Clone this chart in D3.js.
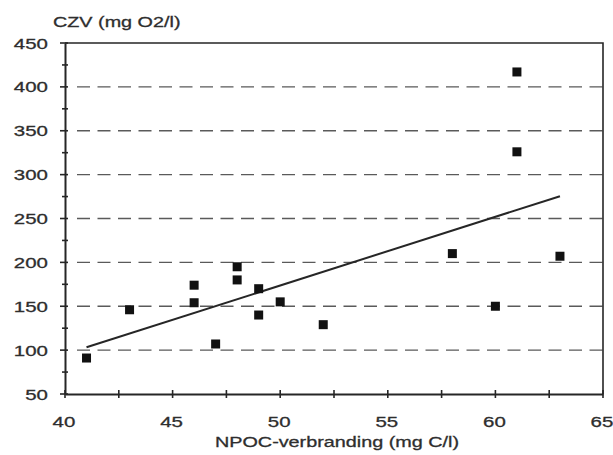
<!DOCTYPE html>
<html>
<head>
<meta charset="utf-8">
<script src="https://cdn.jsdelivr.net/npm/d3@7"></script>
<style>
  html, body { margin: 0; padding: 0; background: #fff; }
  svg { display: block; }
  text { font-family: "Liberation Sans", Arial, sans-serif; fill: #2e2e2e; stroke: #2e2e2e; stroke-width: 0.3; }
</style>
</head>
<body>
<svg id="chart" width="613" height="455"></svg>
<script>
// NPOC (mg C/l) against CZV (mg O2/l) for each sample
const npoc = [41, 43, 46, 46, 47, 48, 48, 49, 49, 50, 52, 58, 60, 63, 61, 61];
const czv  = [91, 146, 174, 154, 107, 195, 180, 170, 140, 155, 129, 210, 150, 207, 417, 326];

const xTicks = [40, 45, 50, 55, 60, 65];
const yTicks = [50, 100, 150, 200, 250, 300, 350, 400, 450];
const xMinor = [42.5, 47.5, 52.5, 57.5, 62.5];
const yMinor = [75, 125, 175, 225, 275, 325, 375, 425];
const gridValues = [100, 150, 200, 250, 300, 350, 400];

const yTitle = "CZV (mg O2/l)";
const xTitle = "NPOC-verbranding (mg C/l)";

const svg = d3.select("#chart");
const ink = "#262626";
const stretch = 1.32;   // the lettering is set wide

const x = d3.scaleLinear().domain([40, 65]).range([65, 603]);
const y = d3.scaleLinear().domain([50, 450]).range([394, 43]);

// dashed horizontal guides
svg.append("g").selectAll("line").data(gridValues).join("line")
  .attr("x1", x(40) + 12).attr("x2", x(65))
  .attr("y1", d => y(d)).attr("y2", d => y(d))
  .attr("stroke", "#5a5a5a").attr("stroke-width", 1.3)
  .attr("stroke-dasharray", "13,7.5");

// frame: top and right edges
svg.append("path")
  .attr("d", `M${x(40)},${y(450)}H${x(65)}V${y(50)}`)
  .attr("fill", "none").attr("stroke", ink).attr("stroke-width", 1.6);

// axes
const xAxis = d3.axisBottom(x).tickValues(xTicks).tickSize(0).tickFormat("");
const gx = svg.append("g").attr("transform", `translate(0,${y(50)})`).call(xAxis);
gx.select(".domain").attr("stroke", ink).attr("stroke-width", 2);
const yAxis = d3.axisLeft(y).tickValues(yTicks).tickSize(0).tickFormat("");
const gy = svg.append("g").attr("transform", `translate(${x(40)},0)`).call(yAxis);
gy.select(".domain").attr("stroke", ink).attr("stroke-width", 2);

// tick marks crossing the axes
svg.append("g").selectAll("line").data(xTicks.concat(xMinor)).join("line")
  .attr("x1", d => x(d)).attr("x2", d => x(d))
  .attr("y1", y(50) - 4).attr("y2", y(50) + 4)
  .attr("stroke", ink).attr("stroke-width", 1.6);
svg.append("g").selectAll("line").data(yTicks).join("line")
  .attr("x1", x(40) - 5).attr("x2", x(40) + 3)
  .attr("y1", d => y(d)).attr("y2", d => y(d))
  .attr("stroke", ink).attr("stroke-width", 1.6);
svg.append("g").selectAll("line").data(yMinor).join("line")
  .attr("x1", x(40) - 3).attr("x2", x(40) + 3)
  .attr("y1", d => y(d)).attr("y2", d => y(d))
  .attr("stroke", ink).attr("stroke-width", 1.6);

// tick labels, drawn wide
svg.append("g").selectAll("text").data(yTicks).join("text")
  .attr("transform", d => `translate(48,${y(d) + 5.6}) scale(${stretch},1)`)
  .attr("text-anchor", "end").attr("font-size", 15.5)
  .text(d => d);
svg.append("g").selectAll("text").data(xTicks).join("text")
  .attr("transform", d => `translate(${x(d) - 1},${y(50) + 33}) scale(${stretch},1)`)
  .attr("text-anchor", "middle").attr("font-size", 15.5)
  .text(d => d);

// axis titles
svg.append("text")
  .attr("transform", `translate(53,27) scale(${stretch},1)`)
  .attr("font-size", 15).text(yTitle);
svg.append("text")
  .attr("transform", `translate(337,447) scale(${stretch},1)`)
  .attr("text-anchor", "middle").attr("font-size", 15).text(xTitle);

// least-squares trend line over the observed NPOC range
const n = npoc.length;
const mx = d3.mean(npoc), my = d3.mean(czv);
const sxy = d3.sum(npoc, (v, i) => (v - mx) * (czv[i] - my));
const sxx = d3.sum(npoc, v => (v - mx) * (v - mx));
const slope = sxy / sxx, intercept = my - slope * mx;
const ends = d3.extent(npoc);
svg.append("line")
  .attr("x1", x(ends[0])).attr("y1", y(intercept + slope * ends[0]))
  .attr("x2", x(ends[1])).attr("y2", y(intercept + slope * ends[1]))
  .attr("stroke", ink).attr("stroke-width", 2);

// sample markers
svg.append("g").selectAll("rect").data(d3.range(n)).join("rect")
  .attr("x", i => x(npoc[i]) - 4.5).attr("y", i => y(czv[i]) - 4.5)
  .attr("width", 9).attr("height", 9)
  .attr("fill", "#111");
</script>
</body>
</html>
